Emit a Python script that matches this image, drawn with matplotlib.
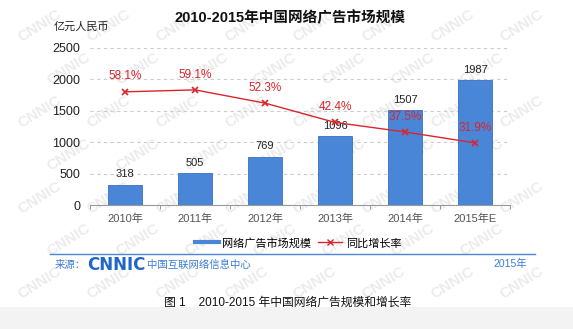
import matplotlib
matplotlib.use('Agg')
import matplotlib.pyplot as plt
from matplotlib.patches import Rectangle
from matplotlib.lines import Line2D
import numpy as np

plt.rcParams['font.family'] = ['Liberation Sans', 'Noto Sans CJK SC', 'DejaVu Sans']
plt.rcParams['axes.unicode_minus'] = False

# 数据
years = ['2010年', '2011年', '2012年', '2013年', '2014年', '2015年E']
market = [318, 505, 769, 1096, 1507, 1987]
growth = [58.1, 59.1, 52.3, 42.4, 37.5, 31.9]

bar_color = '#4a86d8'
red = '#d9252b'
blue_txt = '#3b7dd8'

fig = plt.figure(figsize=(5.73, 3.29), dpi=100)
fig.patch.set_facecolor('white')

# 底部灰条
fig.patches.append(Rectangle((0, 0), 1, 22 / 329, transform=fig.transFigure,
                             facecolor='#f3f3f3', edgecolor='none', zorder=-2))

# 水印（淡灰色，放在图后面）
for row in range(7):
    for col in range(8):
        wx = 0.07 + col * 0.12 + (row % 2) * 0.05
        wy = 0.92 - row * 0.13
        if wx > 0.94:
            continue
        fig.text(wx, wy, 'CNNIC', fontsize=11, fontweight='bold', color='#ececec',
                 rotation=32, ha='center', va='center', zorder=-1)

ax = fig.add_axes([90 / 573, 1 - 205 / 329, 420 / 573, 157 / 329])
ax.set_facecolor('none')
x = np.arange(len(years))

ax.bar(x, market, width=0.49, color=bar_color, edgecolor='#3a6fbf',
       linewidth=0.6, zorder=3)
for xi, v in zip(x, market):
    ax.text(xi, v + 90, str(v), ha='center', va='bottom', fontsize=8,
            color='#222222', zorder=5)

ax.set_ylim(0, 2500)
ax.set_xlim(-0.5, len(years) - 0.5)
ax.set_yticks(range(0, 2501, 500))
ax.set_yticklabels([str(t) for t in range(0, 2501, 500)], fontsize=9,
                   color='#222222')
ax.tick_params(axis='y', length=0, pad=7)
ax.set_xticks(x)
ax.set_xticklabels(years, fontsize=8, color='#555555')
ax.tick_params(axis='x', length=0, pad=6)
ax.set_xticks(np.arange(-0.5, len(years), 1), minor=True)
ax.tick_params(axis='x', which='minor', length=3, color='#888888', direction='out')
ax.grid(axis='y', linestyle=(0, (3, 3)), color='#cccccc', linewidth=0.8, zorder=0)
for s in ['top', 'right', 'left']:
    ax.spines[s].set_visible(False)
ax.spines['bottom'].set_color('#999999')
ax.spines['bottom'].set_linewidth(0.8)

# 增长率（次坐标轴）
ax2 = ax.twinx()
ax2.set_ylim(0, 80.6)
ax2.plot(x, growth, color=red, linewidth=1.0, marker='x', markersize=5,
         markeredgewidth=1.2, zorder=6)
for xi, g in zip(x, growth):
    ax2.text(xi, g + 4.8, f'{g}%', ha='center', va='bottom', fontsize=8.5,
             color=red, zorder=7)
ax2.axis('off')

# 标题与单位
fig.text(290 / 573, 1 - 18 / 329, '2010-2015年中国网络广告市场规模', ha='center',
         va='center', fontsize=10.5, fontweight='bold', color='#111111')
fig.text(54 / 573, 1 - 27 / 329, '亿元人民币', ha='left', va='center',
         fontsize=8, color='#222222')

# 图例
handles = [Line2D([0], [0], color=bar_color, linewidth=3),
           Line2D([0], [0], color=red, linewidth=1, marker='x', markersize=5)]
fig.legend(handles, ['网络广告市场规模', '同比增长率'], loc='center',
           bbox_to_anchor=(298 / 573, 1 - 243 / 329), ncol=2, frameon=False,
           fontsize=8, handlelength=2.2, columnspacing=0.6, handletextpad=0.3)

# 来源
fig.lines.append(Line2D([50 / 573, 535 / 573], [1 - 254 / 329, 1 - 254 / 329],
                        transform=fig.transFigure, color='#4a86d8', linewidth=1))
fig.text(55 / 573, 1 - 265 / 329, '来源：', ha='left', va='center',
         fontsize=7.5, color=blue_txt)
fig.text(87 / 573, 1 - 265 / 329, 'CNNIC', ha='left', va='center',
         fontsize=12, fontweight='heavy', color='#1f66c8', family='DejaVu Sans')
fig.text(147 / 573, 1 - 265 / 329, '中国互联网络信息中心', ha='left', va='center',
         fontsize=7.5, color=blue_txt)
fig.text(510 / 573, 1 - 264 / 329, '2015年', ha='center', va='center',
         fontsize=7.5, color=blue_txt)

# 图注
fig.text(288 / 573, 1 - 303 / 329, '图 1    2010-2015 年中国网络广告规模和增长率',
         ha='center', va='center', fontsize=8.5, color='#111111')

fig.savefig('out.png', dpi=100)
